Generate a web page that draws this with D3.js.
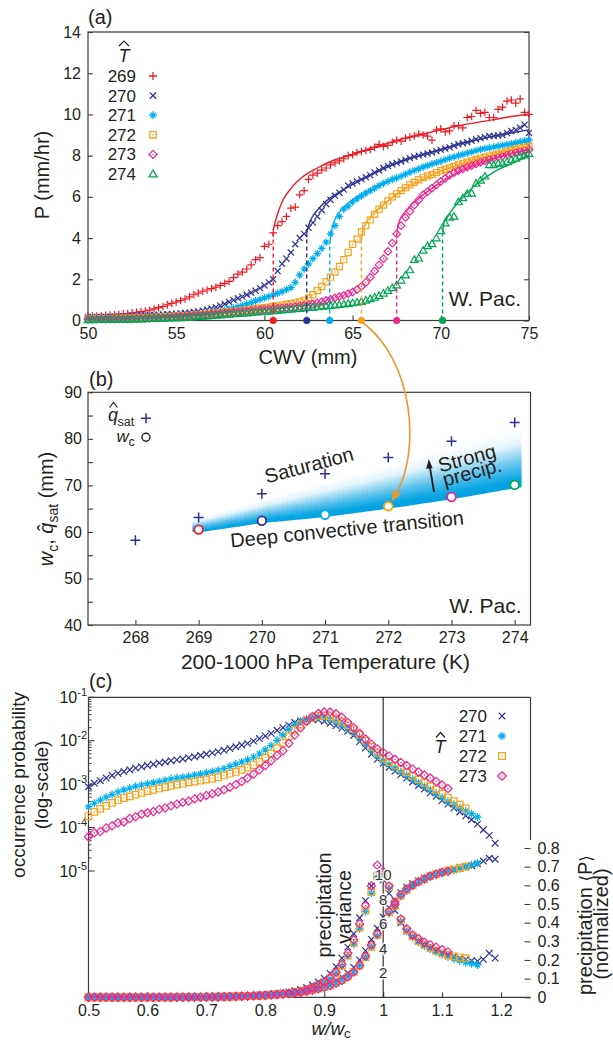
<!DOCTYPE html>
<html>
<head>
<meta charset="utf-8">
<script src="https://cdn.jsdelivr.net/npm/d3@7"></script>
<style>
  body { margin: 0; background: #fff; }
  svg { display: block; font-family: "Liberation Sans", Arial, sans-serif; }
</style>
</head>
<body>
<div id="chart"></div>
<script>
// ---------- panel (a): precipitation vs CWV, one series per temperature ----------
const tempsA = [269, 270, 271, 272, 273, 274];
const cwvBins = d3.range(50, 75.001, 0.25);   // 0.25 mm CWV bins
const precip269 = [0.20,0.21,0.22,0.23,0.25,0.26,0.28,0.30,0.32,0.34,
  0.37,0.40,0.43,0.46,0.50,0.56,0.62,0.68,0.76,0.83,
  0.90,0.97,1.05,1.15,1.25,1.33,1.42,1.48,1.55,1.62,
  1.70,1.80,1.90,2.08,2.25,2.35,2.50,2.70,2.95,3.05,
  3.60,3.70,4.25,4.60,4.80,5.05,5.45,5.50,6.10,6.30,
  6.85,7.05,7.15,7.30,7.40,7.55,7.65,7.75,7.85,8.00,
  8.05,8.15,8.20,8.25,8.30,8.40,8.55,8.45,8.50,8.65,
  8.75,8.70,8.85,8.90,8.95,9.05,9.00,8.95,8.75,9.25,
  9.30,9.15,9.20,9.45,9.45,9.35,9.85,9.90,10.20,10.05,
  10.10,9.85,9.85,10.25,10.35,10.65,10.70,10.55,10.75,10.10,
  10.00];
const precip270 = [0.16,0.165,0.17,0.175,0.18,0.185,0.19,0.195,0.20,0.21,
  0.22,0.23,0.24,0.25,0.26,0.27,0.28,0.295,0.31,0.32,
  0.33,0.345,0.36,0.385,0.41,0.44,0.48,0.53,0.58,0.65,
  0.72,0.80,0.90,0.99,1.08,1.16,1.25,1.35,1.45,1.57,
  1.70,1.85,2.00,2.40,2.75,3.00,3.30,3.70,4.00,4.20,
  4.50,4.75,5.05,5.35,5.65,5.85,6.05,6.20,6.35,6.55,
  6.65,6.75,6.85,6.95,7.05,7.18,7.28,7.40,7.50,7.58,
  7.65,7.72,7.80,7.88,7.95,8.00,8.05,8.10,8.15,8.22,
  8.28,8.35,8.40,8.48,8.55,8.60,8.65,8.72,8.80,8.85,
  8.90,8.95,8.95,8.98,9.00,9.10,9.20,9.25,9.35,9.50,
  9.10];
const precip271 = [0.10,0.105,0.11,0.115,0.12,0.125,0.13,0.135,0.14,0.145,
  0.15,0.155,0.16,0.165,0.17,0.18,0.19,0.20,0.21,0.22,
  0.23,0.245,0.26,0.28,0.30,0.32,0.34,0.37,0.40,0.43,
  0.47,0.51,0.55,0.60,0.66,0.73,0.80,0.87,0.95,1.02,
  1.10,1.17,1.25,1.32,1.40,1.50,1.60,1.85,2.20,2.50,
  2.75,3.00,3.25,3.50,3.80,4.20,4.60,5.05,5.40,5.55,
  5.75,5.90,6.05,6.18,6.30,6.42,6.55,6.65,6.75,6.85,
  6.92,7.00,7.10,7.20,7.28,7.36,7.45,7.52,7.60,7.66,
  7.72,7.80,7.88,7.94,8.00,8.06,8.12,8.18,8.25,8.30,
  8.35,8.38,8.42,8.46,8.50,8.54,8.58,8.63,8.68,8.72,
  8.75];
const precip272 = [0.08,0.082,0.085,0.088,0.09,0.095,0.10,0.105,0.11,0.115,
  0.12,0.125,0.13,0.135,0.14,0.15,0.16,0.17,0.18,0.195,
  0.21,0.22,0.23,0.245,0.26,0.28,0.30,0.32,0.34,0.36,
  0.38,0.40,0.42,0.445,0.47,0.495,0.52,0.545,0.57,0.595,
  0.62,0.65,0.68,0.71,0.75,0.78,0.82,0.86,0.90,0.98,
  1.10,1.25,1.45,1.65,1.88,2.10,2.35,2.62,2.95,3.30,
  3.70,3.95,4.30,4.60,4.88,5.15,5.40,5.60,5.80,6.00,
  6.15,6.30,6.45,6.58,6.70,6.83,6.95,7.02,7.08,7.18,
  7.27,7.34,7.40,7.48,7.55,7.62,7.68,7.75,7.82,7.88,
  7.93,7.98,8.02,8.07,8.12,8.18,8.25,8.30,8.36,8.40,
  8.45];
const precip273 = [0.06,0.062,0.065,0.068,0.07,0.072,0.075,0.078,0.08,0.085,
  0.09,0.095,0.10,0.105,0.11,0.12,0.13,0.14,0.15,0.165,
  0.18,0.195,0.21,0.225,0.24,0.255,0.27,0.285,0.30,0.32,
  0.34,0.36,0.38,0.40,0.42,0.44,0.46,0.48,0.50,0.52,
  0.54,0.555,0.57,0.59,0.61,0.63,0.65,0.675,0.70,0.73,
  0.76,0.80,0.85,0.91,0.97,1.03,1.10,1.16,1.22,1.30,
  1.38,1.50,1.65,1.85,2.10,2.40,2.70,3.00,3.35,3.75,
  4.20,4.60,5.00,5.30,5.60,5.85,6.10,6.25,6.42,6.58,
  6.75,6.90,7.05,7.18,7.28,7.36,7.45,7.52,7.60,7.68,
  7.75,7.82,7.88,7.93,7.98,8.04,8.10,8.15,8.20,8.25,
  8.30];
const precip274 = [0.03,0.032,0.035,0.038,0.04,0.042,0.045,0.048,0.05,0.055,
  0.06,0.065,0.07,0.078,0.085,0.092,0.10,0.105,0.11,0.115,
  0.12,0.13,0.14,0.155,0.17,0.185,0.20,0.215,0.23,0.245,
  0.26,0.28,0.30,0.315,0.33,0.345,0.36,0.38,0.40,0.415,
  0.43,0.445,0.46,0.48,0.50,0.52,0.54,0.56,0.58,0.60,
  0.62,0.64,0.66,0.68,0.70,0.72,0.74,0.765,0.79,0.82,
  0.85,0.88,0.92,0.98,1.05,1.12,1.20,1.32,1.45,1.58,
  1.72,1.95,2.20,2.45,2.95,3.02,3.40,3.62,3.72,4.00,
  4.35,4.72,5.00,5.05,5.75,5.95,6.15,6.17,6.65,6.80,
  7.00,7.55,7.55,7.62,7.62,7.70,7.80,7.87,7.98,8.02,
  8.10];

// fitted curves [CWV, P], starting at the critical value w_c
const fit269 = [[60.5,4.4],[60.6,4.75],[60.8,5.3],[61,5.75],[61.5,6.4],[62,6.85],[63,7.4],[64,7.8],[65,8.05],[66,8.35],[67,8.6],[68,8.85],[69,9.05],[70,9.25],[71,9.45],[72,9.6],[73,9.75],[74,9.9],[75,10.0]];
const fit270 = [[62.4,4.25],[62.5,4.6],[62.7,5.0],[63,5.35],[63.5,5.8],[64,6.1],[65,6.6],[66,7.05],[67,7.45],[68,7.8],[69,8.05],[70,8.3],[71,8.55],[72,8.75],[73,8.95],[74,9.1],[75,9.25]];
const fit271 = [[63.7,3.7],[63.8,4.3],[64,4.9],[64.5,5.5],[65,5.85],[66,6.35],[67,6.75],[68,7.1],[69,7.45],[70,7.75],[71,8.0],[72,8.2],[73,8.4],[74,8.55],[75,8.7]];
const fit272 = [[65.5,3.9],[65.6,4.45],[66,5.0],[66.5,5.45],[67,5.8],[68,6.4],[69,6.85],[70,7.25],[71,7.55],[72,7.85],[73,8.05],[74,8.3],[75,8.45]];
const fit273 = [[67.5,4.15],[67.6,4.7],[68,5.3],[68.5,5.75],[69,6.1],[70,6.7],[71,7.2],[72,7.55],[73,7.85],[74,8.1],[75,8.3]];
const fit274 = [[70.1,4.3],[70.2,4.8],[70.5,5.2],[71,5.75],[71.5,6.2],[72,6.6],[73,7.2],[74,7.6],[75,8.0]];

// ---------- panel (b) ----------
const qsatTemps = [268, 269, 270, 271, 272, 273, 274];
const qsatValues = [58.2, 63.1, 68.2, 72.5, 76.0, 79.5, 83.5];
const wcTemps = [269, 270, 271, 272, 273, 274];
const wcValues = [60.5, 62.4, 63.7, 65.5, 67.5, 70.1];
// shaded band between transition and saturation
const bandTemps = [268.9, 269, 270, 271, 272, 273, 274, 274.1];
const bandLower = [60.1, 59.9, 61.9, 63.2, 65.0, 67.0, 69.4, 69.6];
const bandUpperTemps = [268.9, 274.1];
const bandUpper = [62.6, 82.0];

// ---------- panel (c): w/wc bins of 0.01 starting at 0.5 ----------
const tempsC = [270, 271, 272, 273];
const pdfLog270 = [-3.06,-2.98,-2.92,-2.86,-2.80,-2.75,-2.71,-2.67,-2.63,-2.60,
  -2.57,-2.54,-2.51,-2.49,-2.46,-2.44,-2.42,-2.39,-2.37,-2.34,
  -2.31,-2.28,-2.25,-2.22,-2.18,-2.14,-2.10,-2.06,-2.01,-1.95,
  -1.89,-1.83,-1.76,-1.70,-1.64,-1.58,-1.54,-1.52,-1.51,-1.52,
  -1.55,-1.60,-1.65,-1.71,-1.78,-1.88,-2.02,-2.17,-2.31,-2.43,
  -2.52,-2.61,-2.70,-2.78,-2.86,-2.95,-3.03,-3.11,-3.20,-3.28,
  -3.38,-3.46,-3.55,-3.64,-3.73,-3.82,-3.92,-4.05,-4.18,-4.36];
const pdfLog271 = [-3.52,-3.44,-3.37,-3.30,-3.24,-3.18,-3.13,-3.09,-3.05,-3.02,
  -2.99,-2.97,-2.94,-2.91,-2.88,-2.86,-2.84,-2.82,-2.79,-2.77,
  -2.74,-2.71,-2.68,-2.64,-2.59,-2.54,-2.49,-2.44,-2.38,-2.30,
  -2.21,-2.11,-1.99,-1.87,-1.74,-1.63,-1.55,-1.50,-1.46,-1.45,
  -1.46,-1.50,-1.56,-1.63,-1.71,-1.81,-1.94,-2.08,-2.22,-2.36,
  -2.46,-2.55,-2.63,-2.72,-2.80,-2.89,-2.97,-3.05,-3.13,-3.22,
  -3.31,-3.40,-3.47,-3.55,-3.62,-3.68,-3.76];
const pdfLog272 = [-3.74,-3.64,-3.57,-3.50,-3.43,-3.37,-3.32,-3.28,-3.24,-3.20,
  -3.16,-3.13,-3.10,-3.07,-3.04,-3.01,-2.99,-2.96,-2.94,-2.92,
  -2.89,-2.87,-2.84,-2.80,-2.76,-2.72,-2.67,-2.62,-2.56,-2.48,
  -2.39,-2.29,-2.17,-2.05,-1.90,-1.75,-1.63,-1.54,-1.47,-1.43,
  -1.42,-1.44,-1.49,-1.56,-1.64,-1.74,-1.86,-2.00,-2.14,-2.28,
  -2.40,-2.49,-2.57,-2.65,-2.73,-2.81,-2.89,-2.97,-3.05,-3.13,
  -3.22,-3.31,-3.39,-3.47,-3.56];
const pdfLog273 = [-4.21,-4.12,-4.09,-4.01,-3.96,-3.89,-3.87,-3.79,-3.75,-3.69,
  -3.66,-3.63,-3.58,-3.55,-3.50,-3.46,-3.42,-3.39,-3.34,-3.30,
  -3.26,-3.22,-3.18,-3.13,-3.07,-3.01,-2.94,-2.86,-2.77,-2.67,
  -2.57,-2.46,-2.34,-2.23,-2.06,-1.87,-1.70,-1.55,-1.44,-1.37,
  -1.34,-1.34,-1.38,-1.46,-1.58,-1.70,-1.83,-1.96,-2.08,-2.19,
  -2.27,-2.35,-2.43,-2.50,-2.57,-2.65,-2.72,-2.79,-2.86,-2.94,
  -3.02,-3.10];

const meanP270 = [0,0,0,0,0,0,0,0,0,0,
  0,0,0,0,0,0.001,0.001,0.001,0.001,0.002,
  0.002,0.003,0.003,0.004,0.005,0.006,0.007,0.008,0.009,0.011,
  0.013,0.015,0.017,0.020,0.023,0.027,0.032,0.038,0.045,0.053,
  0.063,0.075,0.090,0.108,0.130,0.160,0.200,0.250,0.310,0.370,
  0.430,0.480,0.520,0.560,0.590,0.610,0.625,0.640,0.650,0.660,
  0.670,0.680,0.685,0.690,0.700,0.705,0.715,0.730,0.745,0.740];
const meanP271 = [0,0,0,0,0,0,0,0,0,0,
  0,0,0,0,0,0.001,0.001,0.001,0.001,0.001,
  0.002,0.002,0.003,0.003,0.004,0.005,0.006,0.007,0.008,0.009,
  0.011,0.013,0.015,0.018,0.021,0.024,0.028,0.033,0.039,0.046,
  0.055,0.065,0.078,0.093,0.112,0.137,0.170,0.215,0.270,0.330,
  0.390,0.450,0.500,0.540,0.570,0.595,0.615,0.630,0.645,0.655,
  0.665,0.675,0.680,0.690,0.700,0.710,0.720];
const meanP272 = [0,0,0,0,0,0,0,0,0,0,
  0,0,0,0,0,0.001,0.001,0.001,0.001,0.001,
  0.002,0.002,0.003,0.003,0.004,0.005,0.006,0.007,0.008,0.009,
  0.011,0.013,0.015,0.017,0.020,0.024,0.028,0.033,0.039,0.046,
  0.054,0.064,0.077,0.092,0.111,0.136,0.170,0.215,0.270,0.335,
  0.395,0.455,0.505,0.545,0.575,0.600,0.620,0.635,0.650,0.660,
  0.670,0.680,0.685,0.695,0.700];
const meanP273 = [0,0,0,0,0,0,0,0,0,0,
  0,0,0,0,0,0.001,0.001,0.001,0.001,0.001,
  0.002,0.002,0.003,0.003,0.004,0.005,0.006,0.007,0.008,0.009,
  0.011,0.013,0.015,0.017,0.020,0.023,0.027,0.032,0.038,0.045,
  0.053,0.063,0.075,0.090,0.110,0.135,0.170,0.220,0.280,0.340,
  0.400,0.460,0.510,0.550,0.580,0.600,0.620,0.635,0.650,0.660,
  0.670,0.675];

const varP270 = [0,0,0,0,0,0,0,0,0,0,
  0,0,0,0,0.01,0.01,0.01,0.01,0.01,0.01,
  0.02,0.03,0.04,0.05,0.06,0.08,0.10,0.12,0.15,0.18,
  0.22,0.26,0.31,0.37,0.44,0.53,0.65,0.80,1.00,1.25,
  1.55,1.95,2.50,3.20,4.10,5.20,6.50,7.90,9.10,10.0,
  9.60,8.50,7.10,6.10,5.40,4.95,4.60,4.30,4.05,3.85,
  3.65,3.50,3.35,3.20,3.10,3.00,2.95,3.10,3.60,3.20];
const varP271 = [0,0,0,0,0,0,0,0,0,0,
  0,0,0,0,0,0.01,0.01,0.01,0.01,0.01,
  0.02,0.02,0.03,0.04,0.05,0.06,0.08,0.10,0.12,0.14,
  0.17,0.20,0.24,0.28,0.33,0.39,0.46,0.58,0.74,0.94,
  1.20,1.50,1.95,2.55,3.35,4.35,5.60,7.00,8.50,9.80,
  9.90,8.90,7.40,6.20,5.40,4.90,4.50,4.20,3.95,3.70,
  3.50,3.30,3.15,3.00,2.85,2.75,2.65];
const varP272 = [0,0,0,0,0,0,0,0,0,0,
  0,0,0,0,0,0.01,0.01,0.01,0.01,0.01,
  0.02,0.02,0.03,0.04,0.05,0.06,0.08,0.10,0.12,0.14,
  0.17,0.20,0.24,0.28,0.33,0.39,0.47,0.59,0.75,0.96,
  1.22,1.55,2.00,2.60,3.40,4.45,5.70,7.10,8.60,9.90,
  10.0,9.00,7.50,6.30,5.50,5.00,4.60,4.30,4.05,3.80,
  3.60,3.45,3.35,3.25,3.20];
const varP273 = [0,0,0,0,0,0,0,0,0,0,
  0,0,0,0,0,0.01,0.01,0.01,0.01,0.01,
  0.02,0.02,0.03,0.04,0.05,0.06,0.08,0.10,0.12,0.14,
  0.17,0.20,0.24,0.28,0.33,0.39,0.46,0.60,0.78,1.00,
  1.25,1.60,2.05,2.70,3.60,4.70,6.00,7.50,9.10,10.8,
  10.3,9.10,7.60,6.40,5.60,5.10,4.80,4.50,4.30,4.10,
  3.90,3.70];

const varianceTicks = [2, 4, 6, 8, 10];

// ---------- styles ----------
const colors = {269: "#ed1c24", 270: "#2e3192", 271: "#00aeef", 272: "#f7a21b", 273: "#ec268f", 274: "#00a651"};
const kinds = {269: "plus", 270: "cross", 271: "star", 272: "square", 273: "diamond", 274: "triangle"};
const ink = "#231f20";
const frame = "#3c3c3c";

const svg = d3.select("#chart").append("svg").attr("width", 613).attr("height", 1040);
svg.append("rect").attr("width", 613).attr("height", 1040).attr("fill", "#fff");

function symbolPath(kind, r) {
  const c = r * 0.8;
  if (kind === "plus") return `M${-r},0H${r}M0,${-r}V${r}`;
  if (kind === "cross") return `M${-c},${-c}L${c},${c}M${-c},${c}L${c},${-c}`;
  if (kind === "star") return `M${-r},0H${r}M0,${-r}V${r}M${-c*0.8},${-c*0.8}L${c*0.8},${c*0.8}M${-c*0.8},${c*0.8}L${c*0.8},${-c*0.8}`;
  if (kind === "square") return `M${-c},${-c}H${c}V${c}H${-c}Z`;
  if (kind === "diamond") return `M0,${-r}L${r},0L0,${r}L${-r},0Z`;
  return `M0,${-r}L${r},${r*0.72}L${-r},${r*0.72}Z`;
}
function addMarker(g, kind, x, y, r, color, sw) {
  g.append("path").attr("d", symbolPath(kind, r))
    .attr("transform", `translate(${x},${y})`)
    .attr("fill", "none").attr("stroke", color).attr("stroke-width", sw);
  if (kind === "square" || kind === "diamond")
    g.append("circle").attr("cx", x).attr("cy", y).attr("r", 0.7).attr("fill", color);
}
function styleAxis(sel, fs) {
  sel.select(".domain").remove();
  sel.selectAll(".tick line").attr("stroke", frame).attr("stroke-width", 1.1);
  sel.selectAll(".tick text").attr("fill", ink).attr("font-size", fs)
    .attr("font-family", '"Liberation Sans", Arial, sans-serif');
}
function hat(g, cx, y, w) {
  g.append("path").attr("d", `M${cx - w},${y + 5}L${cx},${y}L${cx + w},${y + 5}`)
    .attr("fill", "none").attr("stroke", ink).attr("stroke-width", 1.2);
}

// =================== panel (a) ===================
const xA = d3.scaleLinear().domain([50, 75]).range([88, 529]);
const yA = d3.scaleLinear().domain([0, 14]).range([320.5, 32]);
const gA = svg.append("g");

gA.append("g").attr("transform", "translate(88,0)")
  .call(d3.axisLeft(yA).tickValues(d3.range(0, 15, 2)).tickSize(-5).tickPadding(7)).call(styleAxis, 16);
gA.append("g").attr("transform", "translate(529,0)")
  .call(d3.axisRight(yA).tickValues(d3.range(0, 15, 2)).tickSize(-5).tickFormat("")).call(styleAxis, 16);
gA.append("g").attr("transform", "translate(0,320.5)")
  .call(d3.axisBottom(xA).tickValues(d3.range(50, 76, 5)).tickSize(-5).tickPadding(7)).call(styleAxis, 16);
gA.append("rect").attr("x", 88).attr("y", 32).attr("width", 441).attr("height", 288.5)
  .attr("fill", "none").attr("stroke", frame).attr("stroke-width", 1.2);

const precipA = [precip269, precip270, precip271, precip272, precip273, precip274];
const fitsA = [fit269, fit270, fit271, fit272, fit273, fit274];
const markA = gA.append("g");
tempsA.forEach((t, k) => {
  precipA[k].forEach((p, i) => addMarker(markA, kinds[t], xA(cwvBins[i]), yA(p), 3.8, colors[t], 1.2));
});
const fitLine = d3.line().x(d => xA(d[0])).y(d => yA(d[1])).curve(d3.curveMonotoneX);
tempsA.forEach((t, k) => {
  const f = fitsA[k];
  gA.append("path").attr("d", fitLine(f)).attr("fill", "none").attr("stroke", colors[t]).attr("stroke-width", 1.4);
  gA.append("line").attr("x1", xA(wcValues[k])).attr("x2", xA(wcValues[k]))
    .attr("y1", yA(0)).attr("y2", yA(f[0][1]))
    .attr("stroke", colors[t]).attr("stroke-width", 1.4).attr("stroke-dasharray", "4,3");
});
tempsA.forEach((t, k) => {
  gA.append("circle").attr("cx", xA(wcValues[k])).attr("cy", yA(0)).attr("r", 3.6).attr("fill", colors[t]);
});

// legend (a)
hat(gA, 124, 41, 5);
gA.append("text").attr("x", 124).attr("y", 62).attr("text-anchor", "middle")
  .attr("font-size", 18).attr("font-style", "italic").attr("fill", ink).text("T");
tempsA.forEach((t, k) => {
  const y = 76 + k * 19.6;
  gA.append("text").attr("x", 136).attr("y", y + 6).attr("text-anchor", "end")
    .attr("font-size", 17).attr("fill", ink).text(t);
  addMarker(gA, kinds[t], 153, y, 4, colors[t], 1.3);
});

gA.append("text").attr("x", 88).attr("y", 24).attr("font-size", 20).attr("fill", ink).text("(a)");
gA.append("text").attr("transform", "translate(49,175) rotate(-90)").attr("text-anchor", "middle")
  .attr("font-size", 20).attr("fill", ink).text("P (mm/hr)");
gA.append("text").attr("x", 308).attr("y", 364).attr("text-anchor", "middle")
  .attr("font-size", 20).attr("fill", ink).text("CWV (mm)");
gA.append("text").attr("x", 521).attr("y", 306).attr("text-anchor", "end")
  .attr("font-size", 21).attr("fill", ink).text("W. Pac.");

// =================== panel (b) ===================
const xB = d3.scaleLinear().domain([267.25, 274.25]).range([88, 530.5]);
const yB = d3.scaleLinear().domain([40, 90]).range([625, 392.3]);
const gB = svg.append("g");

// gradient band made of thin vertical slices
const defs = svg.append("defs");
const grad = defs.append("linearGradient").attr("id", "bandGrad").attr("x1", 0).attr("y1", 0).attr("x2", 0).attr("y2", 1);
[[0, "#ffffff"], [0.25, "#e2f3fb"], [0.6, "#5cc2ec"], [0.85, "#0aa6e3"], [1, "#00a0e0"]]
  .forEach(s => grad.append("stop").attr("offset", s[0]).attr("stop-color", s[1]));
const lowAt = d3.scaleLinear().domain(bandTemps).range(bandLower);
const upAt = d3.scaleLinear().domain(bandUpperTemps).range(bandUpper);
const nSlices = 70;
const t0 = bandTemps[0], t1 = bandTemps[bandTemps.length - 1];
for (let i = 0; i < nSlices; i++) {
  const a = t0 + (t1 - t0) * i / nSlices, b = t0 + (t1 - t0) * (i + 1) / nSlices;
  const pts = [[xB(a), yB(upAt(a))], [xB(b) + 0.6, yB(upAt(b))], [xB(b) + 0.6, yB(lowAt(b))], [xB(a), yB(lowAt(a))]];
  gB.append("path").attr("d", "M" + pts.join("L") + "Z").attr("fill", "url(#bandGrad)");
}

gB.append("g").attr("transform", "translate(88,0)")
  .call(d3.axisLeft(yB).tickValues(d3.range(40, 91, 5)).tickSize(-5).tickPadding(6)
    .tickFormat(d => d % 10 === 0 ? d : "")).call(styleAxis, 16);
gB.append("g").attr("transform", "translate(0,625)")
  .call(d3.axisBottom(xB).tickValues(qsatTemps).tickSize(-5).tickPadding(7)
    .tickFormat(d3.format("d"))).call(styleAxis, 16);
gB.append("rect").attr("x", 88).attr("y", 392.3).attr("width", 442.5).attr("height", 232.7)
  .attr("fill", "none").attr("stroke", frame).attr("stroke-width", 1.2);

qsatTemps.forEach((t, i) => addMarker(gB, "plus", xB(t), yB(qsatValues[i]), 5, "#2e3192", 1.5));
wcTemps.forEach((t, i) => {
  gB.append("circle").attr("cx", xB(t)).attr("cy", yB(wcValues[i])).attr("r", 4.3)
    .attr("fill", "#fff").attr("stroke", colors[t]).attr("stroke-width", 1.8);
});

// annotations (b)
gB.append("text").attr("transform", "translate(309,465) rotate(-15)").attr("text-anchor", "middle")
  .attr("dy", "0.35em").attr("font-size", 20).attr("fill", ink).text("Saturation");
gB.append("text").attr("transform", "translate(347,529) rotate(-5.7)").attr("text-anchor", "middle")
  .attr("dy", "0.35em").attr("font-size", 20).attr("fill", ink).text("Deep convective transition");
gB.append("text").attr("transform", "translate(467,458) rotate(-15)").attr("text-anchor", "middle")
  .attr("dy", "0.35em").attr("font-size", 20).attr("fill", ink).text("Strong");
gB.append("text").attr("transform", "translate(472,472) rotate(-15)").attr("text-anchor", "middle")
  .attr("dy", "0.35em").attr("font-size", 20).attr("fill", ink).text("precip.");
// black arrow
const ax0 = [434, 492], ax1 = [428.8, 459];
gB.append("line").attr("x1", ax0[0]).attr("y1", ax0[1]).attr("x2", ax1[0] + 0.6).attr("y2", ax1[1] + 5)
  .attr("stroke", ink).attr("stroke-width", 1.8);
gB.append("path").attr("d", `M${ax1[0]},${ax1[1]}L${ax1[0] + 3.8},${ax1[1] + 9}L${ax1[0] - 2.6},${ax1[1] + 10}Z`).attr("fill", ink);

// legend (b)
hat(gB, 113.5, 402.5, 4);
gB.append("text").attr("x", 108).attr("y", 421).attr("font-size", 18).attr("font-style", "italic").attr("fill", ink).text("q");
gB.append("text").attr("x", 117.5).attr("y", 425.5).attr("font-size", 12.5).attr("fill", ink).text("sat");
addMarker(gB, "plus", 146, 418.3, 5, "#2e3192", 1.5);
gB.append("text").attr("x", 116.5).attr("y", 442).attr("font-size", 17).attr("font-style", "italic").attr("fill", ink).text("w");
gB.append("text").attr("x", 128.5).attr("y", 445.5).attr("font-size", 12.5).attr("fill", ink).text("c");
gB.append("circle").attr("cx", 146).attr("cy", 437.3).attr("r", 4).attr("fill", "none").attr("stroke", ink).attr("stroke-width", 1.4);

gB.append("text").attr("x", 89).attr("y", 386).attr("font-size", 20).attr("fill", ink).text("(b)");
gB.append("text").attr("x", 521.5).attr("y", 612.5).attr("text-anchor", "end")
  .attr("font-size", 21).attr("fill", ink).text("W. Pac.");
gB.append("text").attr("x", 325.5).attr("y", 669).attr("text-anchor", "middle")
  .attr("font-size", 21).attr("fill", ink).text("200-1000 hPa Temperature (K)");
const ylB = gB.append("text").attr("transform", "translate(53,509) rotate(-90)").attr("text-anchor", "middle")
  .attr("font-size", 20).attr("fill", ink);
ylB.append("tspan").attr("font-style", "italic").text("w");
ylB.append("tspan").attr("font-size", 14).attr("dy", 5).text("c");
ylB.append("tspan").attr("dy", -5).text(", ");
ylB.append("tspan").attr("font-style", "italic").text("q");
ylB.append("tspan").attr("dx", -8.5).attr("dy", -1).text("\u02C6");
ylB.append("tspan").attr("font-size", 14).attr("dx", 1.8).attr("dy", 6).text("sat");
ylB.append("tspan").attr("dy", -5).text(" (mm)");

// =================== panel (c) ===================
const xC = d3.scaleLinear().domain([0.5, 1.25]).range([88.5, 530.5]);
const yLog = d3.scaleLog().domain([1e-5, 1e-1]).range([871, 697.3]);
const yMean = d3.scaleLinear().domain([0, 0.8]).range([997.3, 848]);
const yVar = d3.scaleLinear().domain([0, 10]).range([997.3, 875]);
const gC = svg.append("g");

// frame
gC.append("line").attr("x1", 88.5).attr("x2", 88.5).attr("y1", 697.3).attr("y2", 997.3).attr("stroke", frame).attr("stroke-width", 1.2);
gC.append("line").attr("x1", 88.5).attr("x2", 530.5).attr("y1", 697.3).attr("y2", 697.3).attr("stroke", frame).attr("stroke-width", 1.2);
gC.append("line").attr("x1", 88.5).attr("x2", 530.5).attr("y1", 997.3).attr("y2", 997.3).attr("stroke", frame).attr("stroke-width", 1.2);
gC.append("line").attr("x1", 530.5).attr("x2", 530.5).attr("y1", 697.3).attr("y2", 840).attr("stroke", frame).attr("stroke-width", 1.2);

// log ticks (left)
[-1, -2, -3, -4, -5].forEach(e => {
  const y = yLog(Math.pow(10, e));
  gC.append("line").attr("x1", 88.5).attr("x2", 94.5).attr("y1", y).attr("y2", y).attr("stroke", frame).attr("stroke-width", 1.1);
  const t = gC.append("text").attr("x", 87).attr("y", y + 5.5).attr("text-anchor", "end").attr("font-size", 16).attr("fill", ink);
  t.append("tspan").text("10");
  t.append("tspan").attr("font-size", 11).attr("dy", -7).text("-" + (-e));
  if (e > -5) {
    d3.range(2, 10).forEach(m => {
      const ym = yLog(m * Math.pow(10, e - 1));
      gC.append("line").attr("x1", 88.5).attr("x2", 91.5).attr("y1", ym).attr("y2", ym).attr("stroke", frame).attr("stroke-width", 1);
    });
  }
});
// x axis (c)
gC.append("g").attr("transform", "translate(0,997.3)")
  .call(d3.axisBottom(xC).tickValues(d3.range(0.5, 1.21, 0.1)).tickSize(-5).tickPadding(7)
    .tickFormat(d => String(+d.toFixed(1)))).call(styleAxis, 16);
// right axis (c)
gC.append("g").attr("transform", "translate(530.5,0)")
  .call(d3.axisRight(yMean).tickValues(d3.range(0, 0.81, 0.1)).tickSize(-6).tickPadding(7)
    .tickFormat(d => String(+d.toFixed(1)))).call(styleAxis, 16);

// vertical line at w = wc
gC.append("line").attr("x1", xC(1)).attr("x2", xC(1)).attr("y1", 697.3).attr("y2", 997.3).attr("stroke", ink).attr("stroke-width", 1.1);

const pdfC = [pdfLog270, pdfLog271, pdfLog272, pdfLog273];
const meanC = [meanP270, meanP271, meanP272, meanP273];
const varC = [varP270, varP271, varP272, varP273];
const markC = gC.append("g");
tempsC.forEach((t, k) => {
  const w = i => xC(0.5 + i * 0.01);
  pdfC[k].forEach((v, i) => addMarker(markC, kinds[t], w(i), yLog(Math.pow(10, v)), 4.1, colors[t], 1.2));
  meanC[k].forEach((v, i) => addMarker(markC, kinds[t], w(i), yMean(v), 4.1, colors[t], 1.2));
  varC[k].forEach((v, i) => addMarker(markC, kinds[t], w(i), yVar(v), 4.1, colors[t], 1.2));
});

// variance scale labels along w = wc
varianceTicks.forEach(v => {
  gC.append("text").attr("x", xC(1)).attr("y", yVar(v)).attr("dy", "0.36em").attr("text-anchor", "middle")
    .attr("font-size", 15).attr("fill", "#333").attr("stroke", "rgba(255,255,255,0.85)").attr("stroke-width", 3)
    .attr("paint-order", "stroke").text(v);
});

// legend (c)
hat(gC, 440.5, 732.5, 4.5);
gC.append("text").attr("x", 440).attr("y", 753).attr("text-anchor", "middle")
  .attr("font-size", 18).attr("font-style", "italic").attr("fill", ink).text("T");
tempsC.forEach((t, k) => {
  const y = 716 + k * 20;
  gC.append("text").attr("x", 487).attr("y", y + 6).attr("text-anchor", "end").attr("font-size", 17).attr("fill", ink).text(t);
  addMarker(gC, kinds[t], 502, y, 4.2, colors[t], 1.3);
});

gC.append("text").attr("x", 89).attr("y", 688).attr("font-size", 20).attr("fill", ink).text("(c)");
gC.append("text").attr("transform", "translate(25,785) rotate(-90)").attr("text-anchor", "middle")
  .attr("font-size", 19).attr("fill", ink).text("occurrence probability");
gC.append("text").attr("transform", "translate(48,785) rotate(-90)").attr("text-anchor", "middle")
  .attr("font-size", 19).attr("fill", ink).text("(log-scale)");
const rl = gC.append("text").attr("transform", "translate(592,925) rotate(-90)").attr("text-anchor", "middle")
  .attr("font-size", 20).attr("fill", ink);
rl.append("tspan").text("precipitation ");
rl.append("tspan").attr("font-family", "DejaVu Sans").attr("font-size", 17).text("\u27E8");
rl.append("tspan").text("P");
rl.append("tspan").attr("font-family", "DejaVu Sans").attr("font-size", 17).text("\u27E9");
gC.append("text").attr("transform", "translate(608,924) rotate(-90)").attr("text-anchor", "middle")
  .attr("font-size", 20).attr("fill", ink).text("(normalized)");
gC.append("text").attr("transform", "translate(331,905) rotate(-90)").attr("text-anchor", "middle")
  .attr("font-size", 19.5).attr("fill", ink).text("precipitation");
gC.append("text").attr("transform", "translate(351,907) rotate(-90)").attr("text-anchor", "middle")
  .attr("font-size", 19.5).attr("fill", ink).text("variance");
const xl = gC.append("text").attr("x", 331).attr("y", 1035).attr("text-anchor", "middle")
  .attr("font-size", 19).attr("fill", ink);
xl.append("tspan").attr("font-style", "italic").text("w/w");
xl.append("tspan").attr("font-size", 13).attr("dy", 3).text("c");

// =================== orange arrow from (a) to (b) ===================
const p0 = [xA(wcValues[3]), yA(0) + 1];
const p3 = [xB(wcTemps[3]) + 3.5, yB(wcValues[3]) - 5];
const c1 = [p0[0] + 54, p0[1] + 40], c2 = [p0[0] + 58, p0[1] + 130];
const ang = Math.atan2(p3[1] - c2[1], p3[0] - c2[0]);
const headLen = 11, headW = 4.5;
const base = [p3[0] - headLen * Math.cos(ang), p3[1] - headLen * Math.sin(ang)];
const arrowPath = d3.path();
arrowPath.moveTo(p0[0], p0[1]);
arrowPath.bezierCurveTo(c1[0], c1[1], c2[0], c2[1], base[0], base[1]);
svg.append("path").attr("d", arrowPath.toString()).attr("fill", "none").attr("stroke", "#f0962e").attr("stroke-width", 1.6);
svg.append("path").attr("d",
  `M${p3[0]},${p3[1]}L${base[0] + headW * Math.sin(ang)},${base[1] - headW * Math.cos(ang)}L${base[0] - headW * Math.sin(ang)},${base[1] + headW * Math.cos(ang)}Z`)
  .attr("fill", "#f0962e");
</script>
</body>
</html>
